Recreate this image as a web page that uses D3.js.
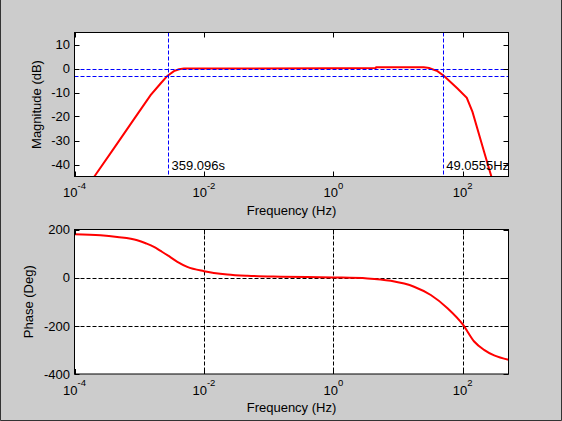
<!DOCTYPE html>
<html>
<head>
<meta charset="utf-8">
<script src="https://cdn.jsdelivr.net/npm/d3@7"></script>
<style>
    html, body { margin: 0; padding: 0; background: #cccccc; }
    svg { display: block; }
    text { font-family: Arial, "Liberation Sans", sans-serif; fill: #000000; }
</style>
</head>
<body>
<div id="bode-plot"></div>
<script>
// frequencies (Hz)
var magnitude_frequencies = [0.00018, 0.000204, 0.000406, 0.000826, 0.0015, 0.00214, 0.00272, 0.00344, 0.00412, 0.00491, 0.01, 1, 4.53, 4.6, 25, 30.2, 40.7, 51.5, 83, 115.6, 141.6, 213.8, 278.6, 300];
var magnitude_db = [-47, -44.9, -33.3, -21.2, -11.1, -6.25, -3.1, -1.1, -0.3, 0, 0, 0.1, 0.2, 0.5, 0.5, 0.2, -1.1, -3.1, -8.3, -12.2, -18.1, -34.7, -45.2, -50];

var phase_frequencies = [0.0001, 0.000252, 0.000457, 0.000933, 0.00126, 0.00169, 0.00214, 0.00272, 0.00389, 0.00553, 0.01, 0.023, 0.0468, 0.155, 1, 3.37, 7.73, 17.7, 32.1, 58.2, 101.4, 150.3, 213.8, 306, 510];
var phase_deg = [180, 176, 169, 155.6, 143, 128, 111, 93.5, 66, 45, 27, 13.6, 8, 4, 1, -3, -13, -37.5, -72, -127, -196, -265, -300, -323, -341];

var frequency_ticks = [0.0001, 0.01, 1, 100];
var frequency_tick_exponents = ["-4", "-2", "0", "2"];
var magnitude_ticks = [10, 0, -10, -20, -30, -40];
var phase_ticks = [200, 0, -200, -400];

var low_cutoff_period = 359.096;   // s
var high_cutoff_frequency = 49.0555; // Hz
var magnitude_markers = [0, -3];

var figure_width = 562;
var figure_height = 421;

var figure_root = d3.select("#bode-plot").append("svg")
                    .attr("width", figure_width)
                    .attr("height", figure_height);

figure_root.append("rect")
           .attr("width", figure_width)
           .attr("height", figure_height)
           .attr("fill", "#cccccc");

// window frame
figure_root.append("path")
           .attr("d", "M0.5,0 V420.5 H561.5 V0")
           .attr("fill", "none")
           .attr("stroke", "#333333")
           .attr("stroke-width", 1);

var x_scale = d3.scaleLog().domain([0.0001, 510]).range([74.5, 508.5]);

var magnitude_scale = d3.scaleLinear().domain([-45, 15]).range([176.5, 32.5]);
var phase_scale = d3.scaleLinear().domain([-400, 200]).range([374, 229.5]);

var magnitude_axes = draw_axes(figure_root, "magnitude", magnitude_scale, magnitude_ticks, "Magnitude (dB)", 40.5);
var phase_axes = draw_axes(figure_root, "phase", phase_scale, phase_ticks, "Phase (Deg)", 32.5);

// grid for the phase axes only
var phase_grid = phase_axes.append("g");
var inner_frequency_ticks = frequency_ticks.slice(1);
phase_grid.selectAll("line.vertical")
          .data(inner_frequency_ticks)
          .enter().append("line")
          .attr("x1", function (d) { return Math.round(x_scale(d)) + 0.5; })
          .attr("x2", function (d) { return Math.round(x_scale(d)) + 0.5; })
          .attr("y1", phase_scale.range()[1])
          .attr("y2", phase_scale.range()[0])
          .attr("stroke", "#000000")
          .attr("stroke-dasharray", "4,2");
phase_grid.selectAll("line.horizontal")
          .data([0, -200])
          .enter().append("line")
          .attr("x1", x_scale.range()[0])
          .attr("x2", x_scale.range()[1])
          .attr("y1", function (d) { return Math.round(phase_scale(d)) + 0.5; })
          .attr("y2", function (d) { return Math.round(phase_scale(d)) + 0.5; })
          .attr("stroke", "#000000")
          .attr("stroke-dasharray", "4,2");

// magnitude curve
var magnitude_points = magnitude_frequencies.map(function (f, i) { return [f, magnitude_db[i]]; });
magnitude_axes.append("path")
              .datum(magnitude_points)
              .attr("clip-path", "url(#clip-magnitude)")
              .attr("d", d3.line()
                           .x(function (d) { return x_scale(d[0]); })
                           .y(function (d) { return magnitude_scale(d[1]); }))
              .attr("fill", "none")
              .attr("stroke", "#ff0000")
              .attr("stroke-width", 2);

// cutoff markers
var low_cutoff_frequency = 1 / low_cutoff_period;
var marker_group = magnitude_axes.append("g");
marker_group.selectAll("line.horizontal")
            .data(magnitude_markers)
            .enter().append("line")
            .attr("x1", x_scale.range()[0])
            .attr("x2", x_scale.range()[1])
            .attr("y1", function (d) { return Math.round(magnitude_scale(d)) + 0.5; })
            .attr("y2", function (d) { return Math.round(magnitude_scale(d)) + 0.5; })
            .attr("stroke", "#0000ff")
            .attr("stroke-dasharray", "4,2");
marker_group.selectAll("line.vertical")
            .data([low_cutoff_frequency, high_cutoff_frequency])
            .enter().append("line")
            .attr("x1", function (d) { return Math.round(x_scale(d)) + 0.5; })
            .attr("x2", function (d) { return Math.round(x_scale(d)) + 0.5; })
            .attr("y1", magnitude_scale.range()[1])
            .attr("y2", magnitude_scale.range()[0])
            .attr("stroke", "#0000ff")
            .attr("stroke-dasharray", "4,2");

var marker_labels = [
    [low_cutoff_frequency, low_cutoff_period.toFixed(3) + "s"],
    [high_cutoff_frequency, high_cutoff_frequency.toFixed(4) + "Hz"]
];
marker_group.selectAll("text")
            .data(marker_labels)
            .enter().append("text")
            .attr("x", function (d) { return x_scale(d[0]) + 3.5; })
            .attr("y", magnitude_scale(-40) + 5)
            .attr("font-size", "13px")
            .text(function (d) { return d[1]; });

// phase curve
var phase_points = phase_frequencies.map(function (f, i) { return [f, phase_deg[i]]; });
phase_axes.append("path")
          .datum(phase_points)
          .attr("clip-path", "url(#clip-phase)")
          .attr("d", d3.line()
                       .curve(d3.curveMonotoneX)
                       .x(function (d) { return x_scale(d[0]); })
                       .y(function (d) { return phase_scale(d[1]); }))
          .attr("fill", "none")
          .attr("stroke", "#ff0000")
          .attr("stroke-width", 2);

// box on top of everything
draw_box(magnitude_axes, magnitude_scale, magnitude_ticks);
draw_box(phase_axes, phase_scale, phase_ticks);

function draw_axes(root, name, y_scale, y_ticks, y_label, y_label_x)
{
    var y_range = y_scale.range();
    var x_range = x_scale.range();
    var axes_root = root.append("g");

    root.append("clipPath")
        .attr("id", "clip-" + name)
        .append("rect")
        .attr("x", x_range[0])
        .attr("y", y_range[1])
        .attr("width", x_range[1] - x_range[0])
        .attr("height", y_range[0] - y_range[1]);

    axes_root.append("rect")
             .attr("x", x_range[0])
             .attr("y", y_range[1])
             .attr("width", x_range[1] - x_range[0])
             .attr("height", y_range[0] - y_range[1])
             .attr("fill", "#ffffff");

    // x tick labels with superscript exponents
    for (var index in frequency_ticks)
    {
        var label = axes_root.append("text")
                             .attr("x", x_scale(frequency_ticks[index]))
                             .attr("y", y_range[0] + 20.5)
                             .attr("text-anchor", "middle")
                             .attr("font-size", "13px");
        label.append("tspan").text("10");
        label.append("tspan")
             .attr("dy", -8.5)
             .attr("font-size", "9.5px")
             .text(frequency_tick_exponents[index]);
    }

    axes_root.selectAll("text.y-tick")
             .data(y_ticks)
             .enter().append("text")
             .attr("x", x_range[0] - 4.5)
             .attr("y", function (d) { return y_scale(d) + 4.7; })
             .attr("text-anchor", "end")
             .attr("font-size", "13px")
             .text(function (d) { return d; });

    axes_root.append("text")
             .attr("x", (x_range[0] + x_range[1]) / 2)
             .attr("y", y_range[0] + 38)
             .attr("text-anchor", "middle")
             .attr("font-size", "13px")
             .text("Frequency (Hz)");

    var y_center = (y_range[0] + y_range[1]) / 2;
    axes_root.append("text")
             .attr("transform", "translate(" + y_label_x + "," + y_center + ")rotate(-90)")
             .attr("text-anchor", "middle")
             .attr("font-size", "13px")
             .text(y_label);

    return axes_root;
}

function draw_box(axes_root, y_scale, y_ticks)
{
    var y_range = y_scale.range();
    var x_range = x_scale.range();
    var tick_length = 5;
    var tick_group = axes_root.append("g")
                              .attr("stroke", "#000000")
                              .attr("stroke-width", 1);

    for (var index in frequency_ticks)
    {
        var x_position = Math.round(x_scale(frequency_ticks[index])) + 0.5;
        tick_group.append("line")
                  .attr("x1", x_position).attr("x2", x_position)
                  .attr("y1", y_range[0]).attr("y2", y_range[0] - tick_length);
        tick_group.append("line")
                  .attr("x1", x_position).attr("x2", x_position)
                  .attr("y1", y_range[1]).attr("y2", y_range[1] + tick_length);
    }

    for (var index_two in y_ticks)
    {
        var y_position = Math.round(y_scale(y_ticks[index_two])) + 0.5;
        tick_group.append("line")
                  .attr("x1", x_range[0]).attr("x2", x_range[0] + tick_length)
                  .attr("y1", y_position).attr("y2", y_position);
        tick_group.append("line")
                  .attr("x1", x_range[1]).attr("x2", x_range[1] - tick_length)
                  .attr("y1", y_position).attr("y2", y_position);
    }

    axes_root.append("rect")
             .attr("x", x_range[0])
             .attr("y", y_range[1])
             .attr("width", x_range[1] - x_range[0])
             .attr("height", y_range[0] - y_range[1])
             .attr("fill", "none")
             .attr("stroke", "#000000")
             .attr("stroke-width", 1);
}
</script>
</body>
</html>
